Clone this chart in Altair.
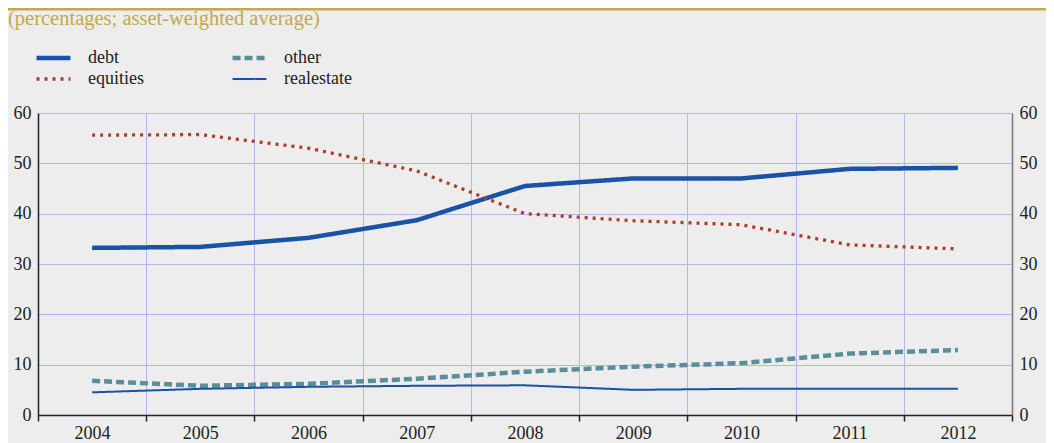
import altair as alt
import pandas as pd

years = ["2004", "2005", "2006", "2007", "2008", "2009", "2010", "2011", "2012"]
debt = [33.2, 33.4, 35.2, 38.7, 45.5, 47.0, 47.0, 48.9, 49.1]
equities = [55.6, 55.7, 53.0, 48.5, 40.0, 38.6, 37.8, 33.8, 33.0]
other = [6.8, 5.8, 6.2, 7.2, 8.6, 9.6, 10.3, 12.2, 12.9]
realestate = [4.5, 5.2, 5.6, 5.8, 5.9, 5.0, 5.2, 5.2, 5.2]

series_order = ["debt", "other", "equities", "realestate"]
series_values = {"debt": debt, "equities": equities, "other": other, "realestate": realestate}
subtitle = "(percentages; asset-weighted average)"

rows = []
for name in series_order:
    for yr, v in zip(years, series_values[name]):
        rows.append({"year": yr, "series": name, "value": v})
df = pd.DataFrame(rows)

FONT = "Liberation Serif"
GRID = "#AFB8E6"
BG = "#ECEDEC"
GOLD = "#C6A84A"
INK = "#222222"

x_enc = alt.X(
    "year:O",
    sort=years,
    bandPosition=0.5,
    scale=alt.Scale(type="band", paddingInner=0, paddingOuter=0),
    axis=alt.Axis(
        title=None, tickBand="extent", grid=True, gridColor=GRID, gridWidth=1,
        domainColor=INK, domainWidth=1.5, tickColor=INK, tickWidth=1.5,
        tickSize=6, labelPadding=3, labelAngle=0, labelFontSize=18, labelFont=FONT,
        labelColor=INK,
    ),
)

y_scale = alt.Scale(domain=[0, 60], nice=False, zero=True)

lines = alt.Chart(df).mark_line(interpolate="linear", strokeCap="butt").encode(
    x=x_enc,
    y=alt.Y(
        "value:Q", scale=y_scale,
        axis=alt.Axis(
            title=None, orient="left", values=[0, 10, 20, 30, 40, 50, 60], ticks=False,
            grid=True, gridColor=GRID, gridWidth=1, domainColor=INK, domainWidth=1.5,
            labelFontSize=18, labelFont=FONT, labelColor=INK, labelPadding=7,
        ),
    ),
    color=alt.Color(
        "series:N", sort=series_order,
        scale=alt.Scale(domain=series_order, range=["#1A52A5", "#5A8E9C", "#B03A2E", "#1A52A5"]),
        legend=alt.Legend(
            title=None, orient="none", legendX=-4, legendY=-65, columns=2,
            direction="horizontal", clipHeight=20,
            symbolType="stroke", symbolSize=1150, columnPadding=86, rowPadding=1,
            labelFont=FONT, labelFontSize=18, labelColor=INK, labelOffset=15,
            symbolOffset=0,
        ),
    ),
    strokeDash=alt.StrokeDash(
        "series:N", sort=series_order,
        scale=alt.Scale(domain=series_order, range=[[1, 0], [8, 4], [3, 5], [1, 0]]),
        legend=alt.Legend(title=None),
    ),
    strokeWidth=alt.StrokeWidth(
        "series:N", sort=series_order,
        scale=alt.Scale(type="ordinal", domain=series_order, range=[4.5, 4.5, 3.3, 2]),
        legend=alt.Legend(title=None),
    ),
)

right_axis = alt.Chart(df).mark_line(opacity=0).encode(
    x=x_enc,
    y=alt.Y(
        "value:Q", scale=y_scale,
        axis=alt.Axis(
            title=None, orient="right", values=[0, 10, 20, 30, 40, 50, 60], ticks=False,
            grid=False, domainColor="#777777", domainWidth=1.5,
            labelFontSize=18, labelFont=FONT, labelColor=INK, labelPadding=7,
        ),
    ),
)

top_rule = alt.Chart(pd.DataFrame({"k": [0]})).mark_rule(color=GOLD, strokeWidth=3).encode(
    x=alt.value(-30), x2=alt.value(1008), y=alt.value(-104)
)

title_text = alt.Chart(pd.DataFrame({"t": [subtitle]})).mark_text(
    align="left", baseline="alphabetic", font=FONT, fontSize=20.5, color=GOLD
).encode(text="t:N", x=alt.value(-30), y=alt.value(-88))

chart = (
    alt.layer(lines, right_axis, top_rule, title_text)
    .resolve_axis(y="independent")
    .properties(
        width=974, height=302,
        autosize=alt.AutoSizeParams(type="none"),
        padding={"left": 30, "top": 105, "right": 34, "bottom": 28},
        background=BG,
    )
    .configure(font=FONT)
    .configure_view(stroke=None)
)

chart.save("out.html", embed_options={"renderer": "svg", "actions": False})
